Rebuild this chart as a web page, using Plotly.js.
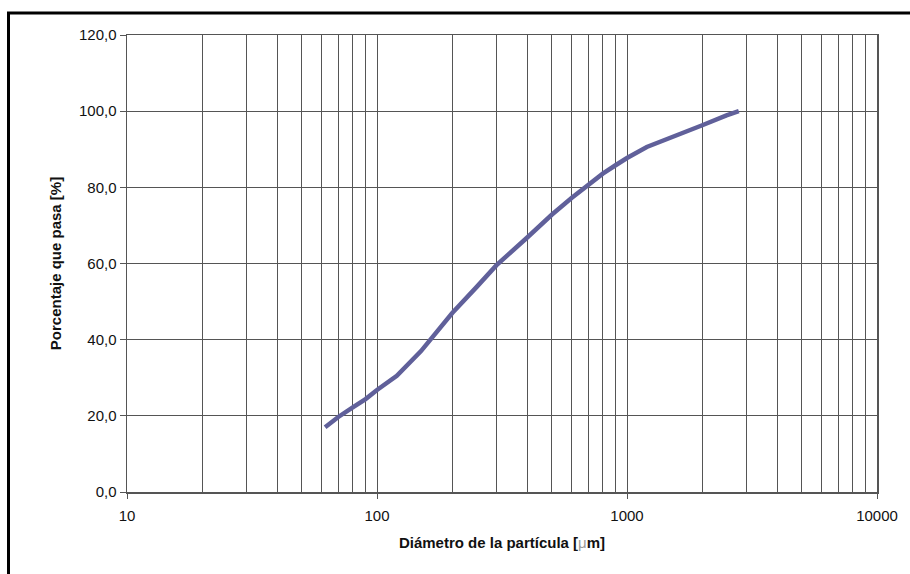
<!DOCTYPE html>
<html>
<head>
<meta charset="utf-8">
<script src="https://cdn.plot.ly/plotly-3.0.1.min.js"></script>
<style>
html,body{margin:0;padding:0;background:#fff;}
#chart{width:910px;height:574px;}
</style>
</head>
<body>
<div id="chart"></div>
<script>
// Particle diameter [µm] and cumulative percent passing
const diameters = [62, 70, 80, 90, 100, 120, 150, 200, 250, 300, 400, 500, 600, 700, 800, 900, 1000, 1200, 1400, 1600, 2000, 2500, 2800];
const passing   = [17.0, 19.7, 22.2, 24.4, 26.8, 30.5, 37.0, 47.0, 53.8, 59.5, 66.9, 72.8, 77.2, 80.7, 83.6, 85.8, 87.7, 90.6, 92.3, 93.6, 96.3, 98.9, 100.0];

const xTickVals = [10, 100, 1000, 10000];
const xTickText = ['10', '100', '1000', '10000'];
const yTickVals = [0, 20, 40, 60, 80, 100, 120];
const yTickText = ['0,0', '20,0', '40,0', '60,0', '80,0', '100,0', '120,0'];

const xTitle = 'Diámetro de la partícula [<span style="font-weight:normal;color:#9a9a9a">μ</span>m]';
const yTitle = 'Porcentaje que pasa [%]';

const gridColor = '#555555';
const txtColor = '#111111';

const trace = {
  x: diameters,
  y: passing,
  type: 'scatter',
  mode: 'lines',
  line: {color: '#60609a', width: 4.5, shape: 'linear'},
  hoverinfo: 'skip'
};

const layout = {
  width: 910,
  height: 574,
  margin: {l: 127, r: 33, t: 35, b: 82, pad: 0},
  paper_bgcolor: '#ffffff',
  plot_bgcolor: '#ffffff',
  showlegend: false,
  font: {family: '"Liberation Sans", Arial, sans-serif', size: 15, color: txtColor},
  xaxis: {
    type: 'log',
    range: [1, 4],
    tickmode: 'array',
    tickvals: xTickVals,
    ticktext: xTickText,
    ticks: 'outside',
    ticklen: 5,
    tickwidth: 1,
    tickcolor: gridColor,
    ticklabelstandoff: 4,
    showgrid: true,
    gridcolor: gridColor,
    gridwidth: 1,
    minor: {dtick: 'D1', showgrid: true, gridcolor: gridColor, gridwidth: 1, ticks: ''},
    showline: true,
    linecolor: gridColor,
    linewidth: 1.5,
    mirror: true,
    zeroline: false,
    automargin: false,
    tickfont: {size: 15, color: txtColor},
    title: {text: xTitle, font: {size: 15, color: txtColor, weight: 'bold'}}
  },
  yaxis: {
    range: [0, 120],
    tickmode: 'array',
    tickvals: yTickVals,
    ticktext: yTickText,
    ticks: 'outside',
    ticklen: 6,
    tickwidth: 1,
    tickcolor: gridColor,
    showgrid: true,
    gridcolor: gridColor,
    gridwidth: 1,
    showline: true,
    linecolor: gridColor,
    linewidth: 1.5,
    mirror: true,
    zeroline: false,
    automargin: false,
    tickfont: {size: 15, color: txtColor},
    title: {text: yTitle, font: {size: 15, color: txtColor, weight: 'bold'}, standoff: 13}
  },
  shapes: [
    {
      type: 'path', xref: 'paper', yref: 'paper',
      path: 'M -0.158 -0.2 L -0.158 1.048 L 1.06 1.048',
      line: {color: '#000000', width: 3}
    }
  ]
};

Plotly.newPlot('chart', [trace], layout, {staticPlot: true, displayModeBar: false});
</script>
</body>
</html>
